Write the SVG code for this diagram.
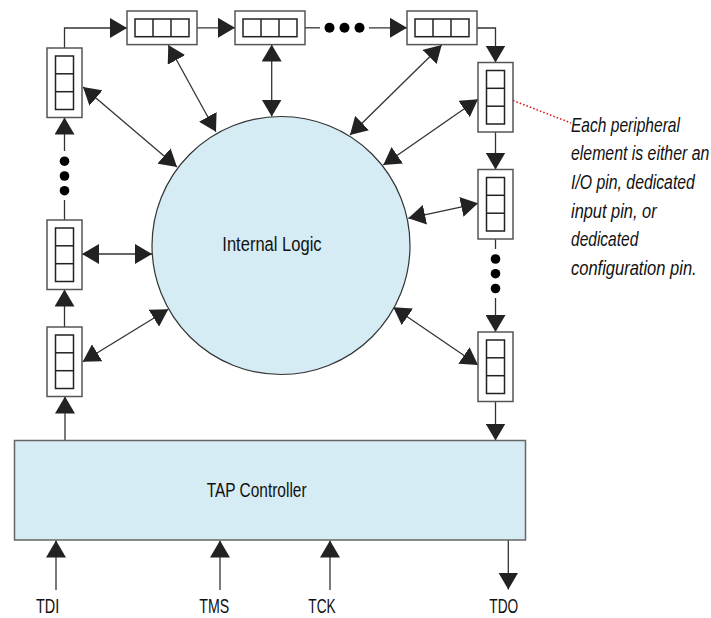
<svg xmlns="http://www.w3.org/2000/svg" xmlns:xlink="http://www.w3.org/1999/xlink" width="711" height="618" viewBox="0 0 711 618">
<style>
.outer{fill:#fff;stroke:#555;stroke-width:1.5}
.inner{fill:#fff;stroke:#222;stroke-width:1.5}
.con{fill:none;stroke:#333;stroke-width:1.3}
.one{marker-end:url(#ah)}
.two{marker-start:url(#ah);marker-end:url(#ah)}
.dot{fill:#000}
.lbl{font-family:"Liberation Sans",Arial,sans-serif;font-size:21px;fill:#111}
.pin{font-family:"Liberation Sans",Arial,sans-serif;font-size:20px;fill:#111}
.note{font-family:"Liberation Sans",Arial,sans-serif;font-size:21px;font-style:italic;fill:#111}
</style>
<defs>
<marker id="ah" viewBox="0 0 17 20" refX="17" refY="10" markerWidth="17" markerHeight="20" markerUnits="userSpaceOnUse" orient="auto-start-reverse">
<path d="M0,0 L17,10 L0,20 Z" fill="#222"/>
</marker>
<g id="vcell">
<rect class="outer" x="0" y="0" width="35" height="69.5"/>
<rect class="inner" x="8.5" y="8" width="18" height="53.5"/>
<line class="inner" x1="8.5" y1="25.8" x2="26.5" y2="25.8"/>
<line class="inner" x1="8.5" y1="43.7" x2="26.5" y2="43.7"/>
</g>
<g id="hcell">
<rect class="outer" x="0" y="0" width="70" height="33.6"/>
<rect class="inner" x="8" y="8" width="54" height="17.7"/>
<line class="inner" x1="26" y1="8" x2="26" y2="25.7"/>
<line class="inner" x1="44" y1="8" x2="44" y2="25.7"/>
</g>
</defs>

<g id="connectors">
<line class="con one" x1="65" y1="440.5" x2="65" y2="396.5"/>
<line class="con one" x1="64.5" y1="327" x2="64.5" y2="289.5"/>
<line class="con" x1="64.5" y1="220" x2="64.5" y2="200"/>
<circle class="dot" cx="64.5" cy="190.7" r="4.8"/>
<circle class="dot" cx="64.5" cy="176" r="4.8"/>
<circle class="dot" cx="64.5" cy="161.2" r="4.8"/>
<line class="con one" x1="64.5" y1="151" x2="64.5" y2="117.5"/>
<polyline class="con one" points="64.5,48 64.5,28 127,28"/>
<line class="con one" x1="197" y1="27.8" x2="235" y2="27.8"/>
<line class="con" x1="305" y1="27.8" x2="320" y2="27.8"/>
<circle class="dot" cx="329.5" cy="27.8" r="5"/>
<circle class="dot" cx="344.5" cy="27.8" r="5"/>
<circle class="dot" cx="359.5" cy="27.8" r="5"/>
<line class="con one" x1="369" y1="27.8" x2="407" y2="27.8"/>
<polyline class="con one" points="477,28 495.5,28 495.5,62.5"/>
<line class="con one" x1="495.5" y1="132" x2="495.5" y2="169.5"/>
<line class="con" x1="495.5" y1="239" x2="495.5" y2="249"/>
<circle class="dot" cx="495.5" cy="259" r="4.8"/>
<circle class="dot" cx="495.5" cy="273.7" r="4.8"/>
<circle class="dot" cx="495.5" cy="288.5" r="4.8"/>
<line class="con one" x1="495.5" y1="298" x2="495.5" y2="332"/>
<line class="con one" x1="495.5" y1="401.5" x2="495.5" y2="440.5"/>
<line class="con two" x1="83" y1="87" x2="177" y2="167"/>
<line class="con two" x1="168.3" y1="45" x2="216" y2="131.7"/>
<line class="con two" x1="271.7" y1="44.6" x2="271.7" y2="116.5"/>
<line class="con two" x1="441.7" y1="45" x2="350" y2="135"/>
<line class="con two" x1="478" y1="99.3" x2="383.3" y2="165"/>
<line class="con two" x1="478" y1="203.3" x2="408.3" y2="218.3"/>
<line class="con two" x1="478" y1="365" x2="393.3" y2="307.3"/>
<line class="con two" x1="82" y1="254" x2="152" y2="254"/>
<line class="con two" x1="82.7" y1="361.7" x2="168.3" y2="309.3"/>
<line class="con one" x1="56" y1="590" x2="56" y2="540.5"/>
<line class="con one" x1="220" y1="590" x2="220" y2="540.5"/>
<line class="con one" x1="330" y1="590" x2="330" y2="540.5"/>
<line class="con one" x1="508.3" y1="540" x2="508.3" y2="589.5"/>
<line x1="513" y1="100.5" x2="571" y2="123" stroke="#e02020" stroke-width="1.6" stroke-dasharray="1.6 2"/>
</g>

<g id="internal-logic">
<circle cx="281" cy="245.5" r="129" fill="#d5ecf4" stroke="#333" stroke-width="1.2"/>
<text class="lbl" transform="translate(222.3,250.7) scale(0.788,1)">Internal Logic</text>
</g>

<g id="tap-controller">
<rect x="14.5" y="440.5" width="511" height="99.5" fill="#d5ecf4" stroke="#666" stroke-width="1.5"/>
<text class="lbl" transform="translate(206.7,496.7) scale(0.736,1)">TAP Controller</text>
</g>

<g id="cell-L1"><use xlink:href="#vcell" x="47" y="48"/></g>
<g id="cell-L2"><use xlink:href="#vcell" x="47" y="220"/></g>
<g id="cell-L3"><use xlink:href="#vcell" x="47" y="327"/></g>
<g id="cell-T1"><use xlink:href="#hcell" x="127" y="11"/></g>
<g id="cell-T2"><use xlink:href="#hcell" x="235" y="11"/></g>
<g id="cell-T3"><use xlink:href="#hcell" x="407" y="11"/></g>
<g id="cell-R1"><use xlink:href="#vcell" x="478" y="62.5"/></g>
<g id="cell-R2"><use xlink:href="#vcell" x="478" y="169.5"/></g>
<g id="cell-R3"><use xlink:href="#vcell" x="478" y="332"/></g>

<g id="pin-labels">
<text class="pin" transform="translate(36,613) scale(0.723,1)">TDI</text>
<text class="pin" transform="translate(199.3,613) scale(0.711,1)">TMS</text>
<text class="pin" transform="translate(308.3,613) scale(0.683,1)">TCK</text>
<text class="pin" transform="translate(489.3,613) scale(0.687,1)">TDO</text>
</g>

<g id="annotation">
<text class="note" transform="translate(571,131.7) scale(0.741,1)">Each peripheral</text>
<text class="note" transform="translate(571,160.3) scale(0.755,1)">element is either an</text>
<text class="note" transform="translate(571,189) scale(0.753,1)">I/O pin, dedicated</text>
<text class="note" transform="translate(571,217.7) scale(0.781,1)">input pin, or</text>
<text class="note" transform="translate(571,246.4) scale(0.739,1)">dedicated</text>
<text class="note" transform="translate(571,275) scale(0.786,1)">configuration pin.</text>
</g>
</svg>
